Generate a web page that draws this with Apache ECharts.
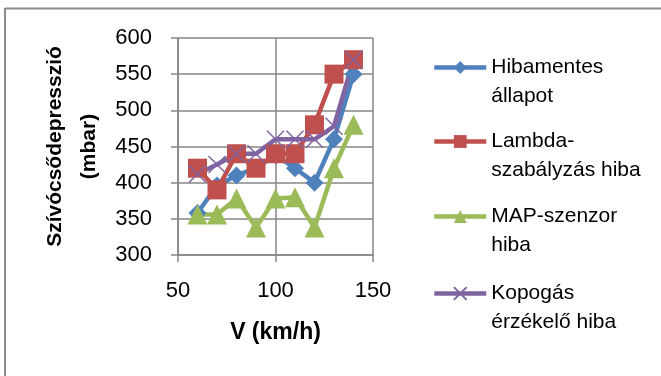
<!DOCTYPE html>
<html>
<head>
<meta charset="utf-8">
<script src="https://cdn.jsdelivr.net/npm/echarts@6/dist/echarts.min.js"></script>
<style>
  html, body { margin: 0; padding: 0; background: #fff; }
  #chart { width: 661px; height: 376px; }
</style>
</head>
<body>
<div id="chart"></div>
<script>
// sebesség (km/h)
var speeds = [60, 70, 80, 90, 100, 110, 120, 130, 140];
var hibamentes = [358, 396, 410, 420, 438, 420, 400, 460, 550];
var lambdaHiba = [420, 390, 440, 420, 440, 440, 480, 550, 570];
var mapHiba = [356, 356, 378, 338, 378, 380, 338, 420, 480];
var kopogasHiba = [412, 425, 440, 440, 460, 460, 460, 478, 570];
var yTicks = [300, 350, 400, 450, 500, 550, 600];
var xTicks = [50, 100, 150];

var names = ['Hibamentes\nállapot', 'Lambda-\nszabályzás hiba', 'MAP-szenzor\nhiba', 'Kopogás\nérzékelő hiba'];
var colors = ['#4F81BD', '#C0504D', '#9BBB59', '#8064A2'];

function pairs(vals) {
  return speeds.map(function (s, i) { return [s, vals[i]]; });
}

var chart = echarts.init(document.getElementById('chart'));
var font = 'Liberation Sans';

// egy-egy jelmagyarázat elem, az ikon az első sorhoz igazítva
function mkLegend(idx, top) {
  return {
    orient: 'vertical',
    left: 432,
    top: top,
    padding: 0,
    itemWidth: 52,
    itemHeight: 16,
    data: [names[idx]],
    formatter: function (n) { return ' \n' + n; },
    lineStyle: { width: 4.5 },
    textStyle: {
      fontFamily: font,
      fontSize: 21,
      color: '#000',
      lineHeight: 29
    }
  };
}

var lineW = 4.5;
chart.setOption({
  animation: false,
  color: colors,
  graphic: [
    { type: 'line', shape: { x1: 5, y1: 8.5, x2: 661, y2: 8.5 }, style: { stroke: '#8a8a8a', lineWidth: 2 } },
    { type: 'line', shape: { x1: 5, y1: 8, x2: 5, y2: 376 }, style: { stroke: '#8a8a8a', lineWidth: 2 } }
  ],
  legend: [mkLegend(0, 24), mkLegend(1, 98), mkLegend(2, 173), mkLegend(3, 250)],
  grid: { left: 178, top: 38, width: 195, height: 217 },
  xAxis: {
    type: 'value',
    min: xTicks[0],
    max: xTicks[xTicks.length - 1],
    interval: 50,
    name: 'V (km/h)',
    nameLocation: 'middle',
    nameGap: 66,
    nameTextStyle: { fontFamily: font, fontSize: 23, fontWeight: 'bold', color: '#000' },
    axisLine: { lineStyle: { color: '#868686', width: 1.5 } },
    axisTick: { show: true, length: 7, lineStyle: { color: '#868686', width: 1.5 } },
    axisLabel: { fontFamily: font, fontSize: 22, color: '#000', margin: 25 },
    splitLine: { show: true, lineStyle: { color: '#868686', width: 1.5 } }
  },
  yAxis: {
    type: 'value',
    min: yTicks[0],
    max: yTicks[yTicks.length - 1],
    interval: 50,
    name: 'Szívócsődepresszió\n(mbar)',
    nameLocation: 'middle',
    nameGap: 72,
    nameTextStyle: { fontFamily: font, fontSize: 21, fontWeight: 'bold', color: '#000', lineHeight: 34 },
    axisLine: { show: true, lineStyle: { color: '#868686', width: 1.5 } },
    axisTick: { show: true, length: 7, lineStyle: { color: '#868686', width: 1.5 } },
    axisLabel: { fontFamily: font, fontSize: 22, color: '#000', margin: 26 },
    splitLine: { show: true, lineStyle: { color: '#868686', width: 1.5 } }
  },
  series: [
    {
      name: names[0], type: 'line', data: pairs(hibamentes),
      symbol: 'diamond', symbolSize: 18,
      lineStyle: { width: lineW }, itemStyle: { color: colors[0] }
    },
    {
      name: names[1], type: 'line', data: pairs(lambdaHiba),
      symbol: 'rect', symbolSize: 19,
      lineStyle: { width: lineW }, itemStyle: { color: colors[1] }
    },
    {
      name: names[2], type: 'line', data: pairs(mapHiba),
      symbol: 'triangle', symbolSize: 20,
      lineStyle: { width: lineW }, itemStyle: { color: colors[2] }
    },
    {
      name: names[3], type: 'line', data: pairs(kopogasHiba),
      symbol: 'path://M0,0L10,10M10,0L0,10', symbolSize: 17,
      lineStyle: { width: lineW, color: colors[3] },
      itemStyle: { color: 'none', borderColor: colors[3], borderWidth: 1.5 }
    }
  ]
});
</script>
</body>
</html>
